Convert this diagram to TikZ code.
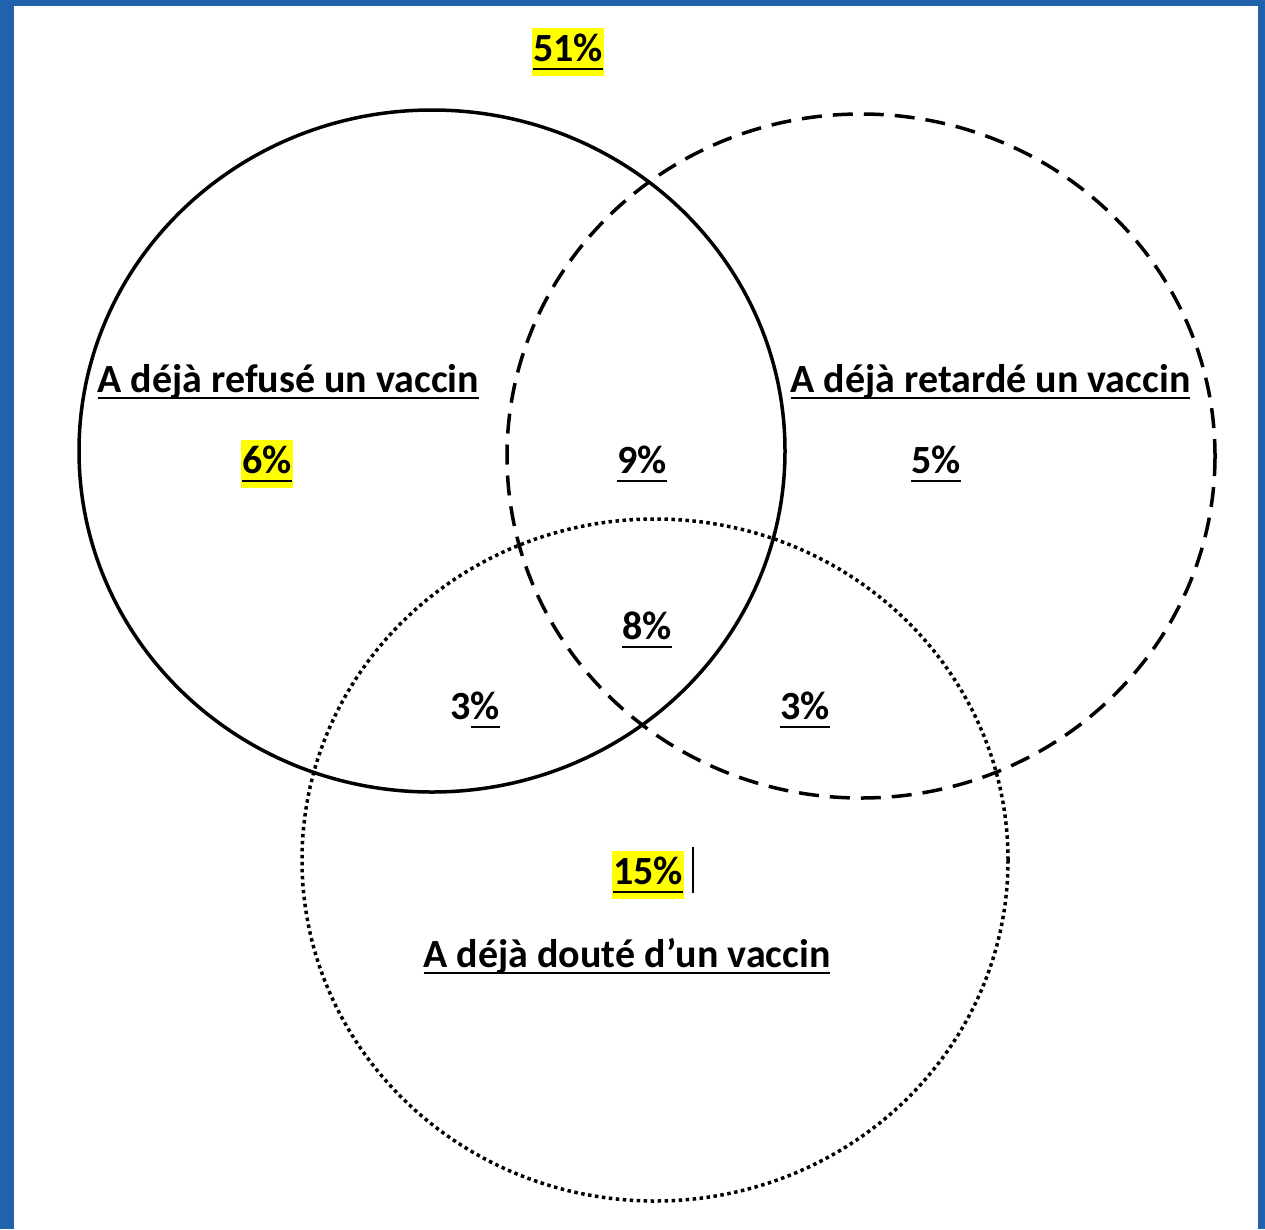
\documentclass[tikz,border=0pt]{standalone}
\usepackage{fontspec}
\setmainfont{Carlito}
\definecolor{bgblue}{RGB}{34,98,172}
\definecolor{hl}{RGB}{255,255,0}
\newcommand\ulx[1]{\setbox0=\hbox{#1}\leavevmode\rlap{\vrule height -4.5pt depth 7pt width \wd0}\box0}
\newcommand\ulp[1]{\setbox0=\hbox{#1}\leavevmode\rlap{\vrule height -6.5pt depth 9pt width \wd0}\box0}
\begin{document}
\begin{tikzpicture}[x=1pt,y=-1pt,
  lbl/.style={inner sep=0pt,anchor=base,font=\fontsize{40}{44}\selectfont\bfseries},
  pct/.style={lbl,inner xsep=1.5pt,inner ysep=1.5pt},
  hlt/.style={pct,fill=hl,text height=32pt,text depth=13pt},
  venn/.style={line width=3.5pt}]
\useasboundingbox (0,0) rectangle (1265,1229);
\fill[bgblue] (0,0) rectangle (1265,1229);
\fill[white] (14,6) rectangle (1258,1229);
% circles
\draw[venn] (432,451) ellipse [x radius=353, y radius=341];
\draw[venn,dash pattern=on 20pt off 11pt] (861,456) ellipse [x radius=354, y radius=342];
\draw[line width=3.5pt,dash pattern=on 3.5pt off 3.5pt] (655,860) ellipse [x radius=353, y radius=341];
% labels
\node[hlt] (p51) at (568,61) {\ulp{51\%}};
\node[lbl] (refuse) at (288.5,392) {\ulx{A déjà refusé un vaccin}};
\node[hlt] (p6) at (267,473) {\ulp{6\%}};
\node[pct] (p9) at (642,473) {\ulp{9\%}};
\node[lbl] (retarde) at (990.5,392) {\ulx{A déjà retardé un vaccin}};
\node[pct] (p5) at (936,473) {\ulp{5\%}};
\node[pct] (p8) at (647,639) {\ulp{8\%}};
\node[pct] (p3a) at (475,719) {3\ulp{\%}};
\node[pct] (p3b) at (805,719) {\ulp{3\%}};
\node[hlt] (p15) at (648,884) {\ulp{15\%}};
\coordinate (ct) at (693,847);
\coordinate (cb) at (693,893);
\draw[line width=1.5pt] (ct) -- (cb);
\node[lbl] (doute) at (627,967) {\ulx{A déjà douté d’un vaccin}};
\end{tikzpicture}
\end{document}
